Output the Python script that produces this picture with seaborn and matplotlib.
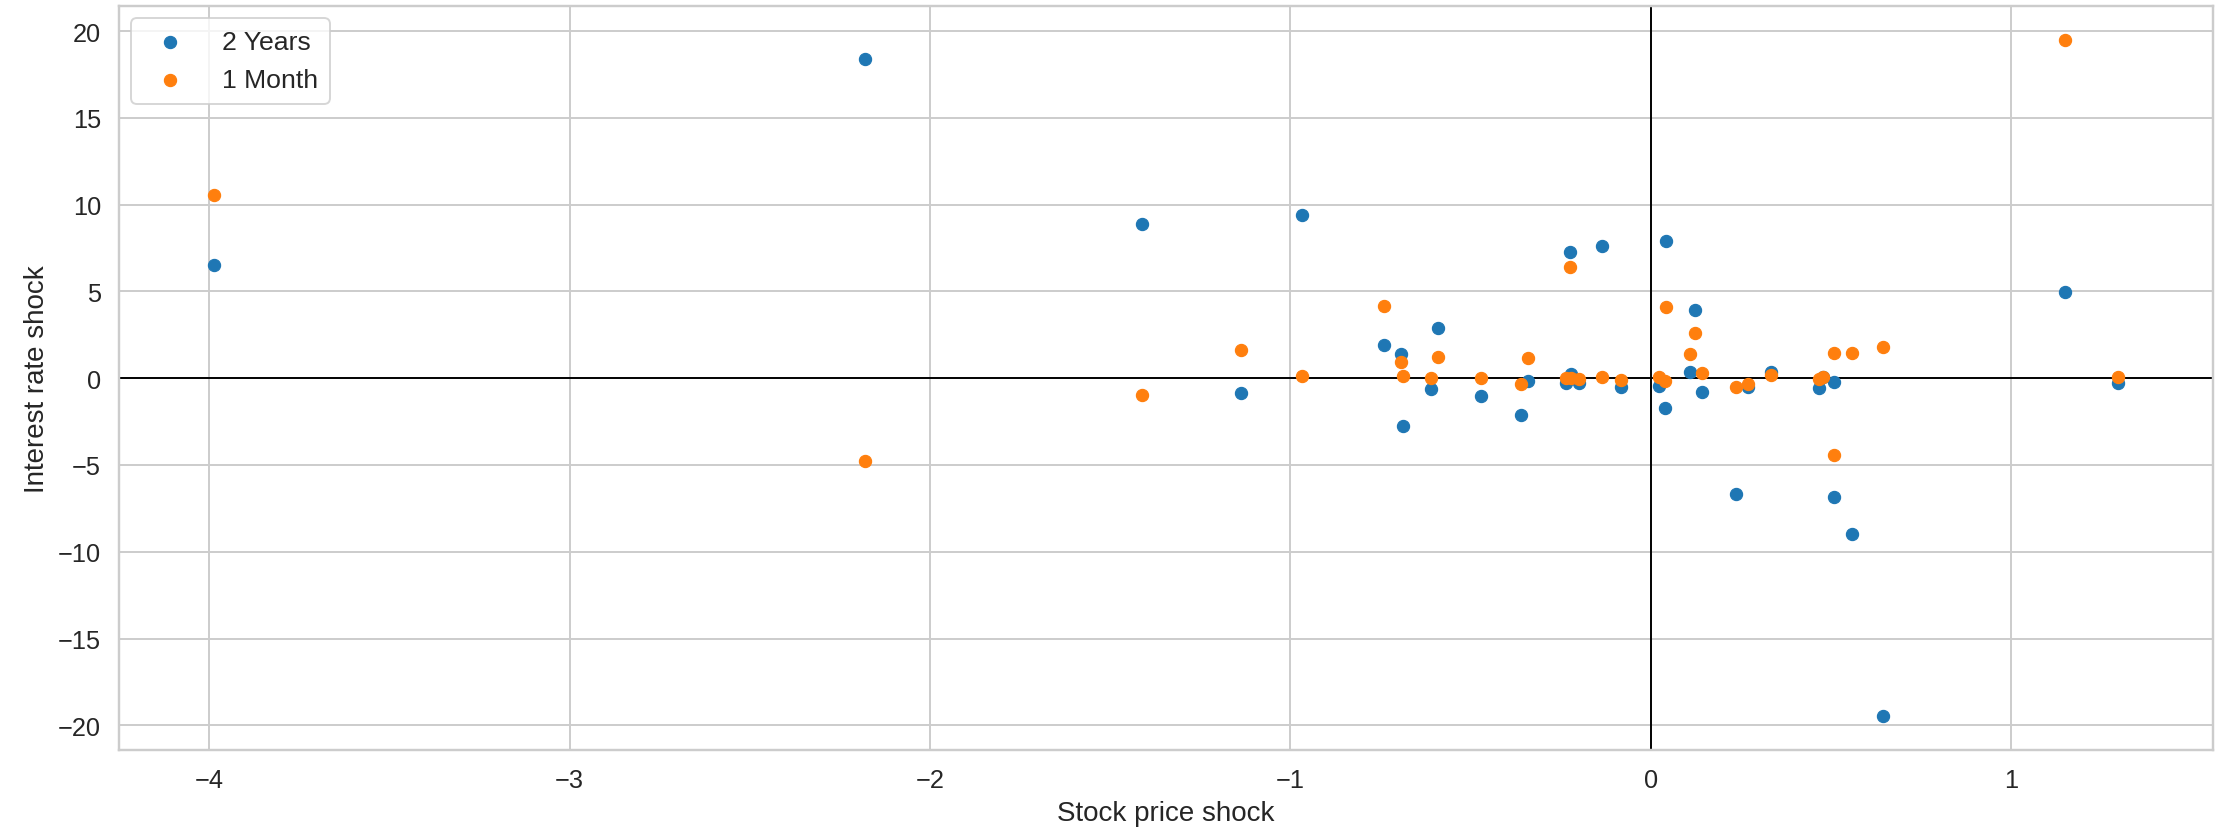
import numpy as np
import pandas as pd
import matplotlib
matplotlib.use("Agg")
import matplotlib.pyplot as plt
import seaborn as sns

# Stock price shocks (x) and the matching interest rate shocks (y) per event
stock_shock = [
    -3.986, -2.179, -1.411, -1.138, -0.968, -0.739, -0.694, -0.686, -0.610,
    -0.590, -0.470, -0.361, -0.341, -0.224, -0.220, -0.235, -0.199, -0.135,
    -0.082, 0.024, 0.040, 0.043, 0.109, 0.122, 0.142, 0.238, 0.270, 0.335,
    0.468, 0.478, 0.508, 0.509, 0.559, 0.644, 1.151, 1.296,
]
rate_2y = [
    6.55, 18.42, 8.86, -0.85, 9.42, 1.92, 1.40, -2.73, -0.62,
    2.90, -1.04, -2.14, -0.17, 7.27, 0.25, -0.27, -0.27, 7.60,
    -0.52, -0.46, -1.69, 7.90, 0.38, 3.96, -0.81, -6.68, -0.52, 0.35,
    -0.58, 0.05, -0.23, -6.83, -8.98, -19.47, 4.96, -0.27,
]
rate_1m = [
    10.58, -4.75, -0.96, 1.65, 0.12, 4.15, 0.92, 0.15, 0.02,
    1.25, 0.02, -0.35, 1.15, 6.40, 0.02, 0.02, -0.05, 0.09,
    -0.10, 0.06, -0.14, 4.11, 1.38, 2.60, 0.29, -0.48, -0.33, 0.19,
    -0.04, 0.09, 1.44, -4.43, 1.46, 1.79, 19.48, 0.06,
]
series_labels = ["2 Years", "1 Month"]

df = pd.DataFrame({"stock": stock_shock, "y2": rate_2y, "m1": rate_1m})

sns.set_theme(style="whitegrid", font_scale=1.2)
plt.rcParams["font.family"] = ["Liberation Sans", "DejaVu Sans"]

fig, ax = plt.subplots(figsize=(16, 6), dpi=138.82)
fig.subplots_adjust(left=0.0537, right=0.9962, top=0.9912, bottom=0.0986)

palette = sns.color_palette("tab10")

# Reference axes through the origin, kept beneath the points
ax.axhline(0, color="black", linewidth=1, zorder=0.9)
ax.axvline(0, color="black", linewidth=1, zorder=0.9)

sns.scatterplot(data=df, x="stock", y="y2", color=palette[0], s=40,
                edgecolor="face", linewidth=0.6, label=series_labels[0], ax=ax)
sns.scatterplot(data=df, x="stock", y="m1", color=palette[1], s=40,
                edgecolor="face", linewidth=0.6, label=series_labels[1], ax=ax)

ax.set_xlabel("Stock price shock")
ax.set_ylabel("Interest rate shock")
ax.set_xticks([-4, -3, -2, -1, 0, 1])
ax.set_yticks([-20, -15, -10, -5, 0, 5, 10, 15, 20])
ax.legend(loc="upper left", fontsize=13.8, handlelength=2.0,
          handletextpad=0.95, borderpad=0.45, labelspacing=0.5,
          borderaxespad=0.45)

fig.savefig("out.png", dpi=138.82)
